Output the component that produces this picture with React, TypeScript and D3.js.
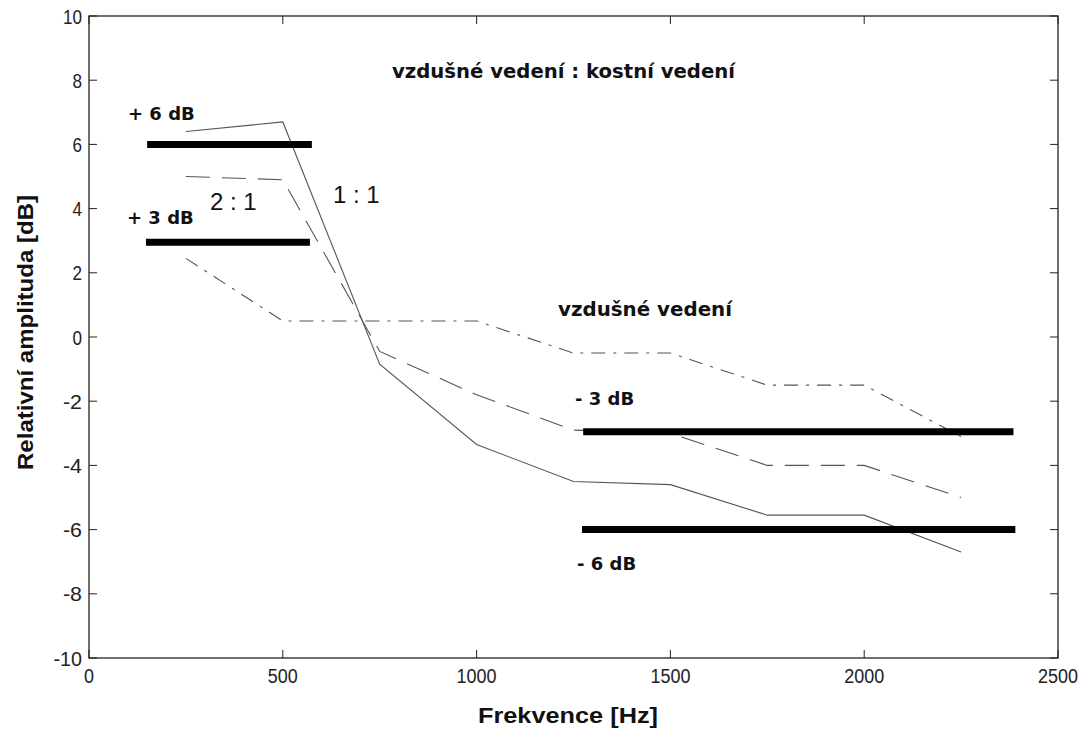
import React from "react";
import * as d3 from "d3";

// frequency points (Hz)
const freqs = [250, 500, 750, 1000, 1250, 1500, 1750, 2000, 2250];
// 1:1 ratio (solid)
const ratio11 = [6.4, 6.7, -0.85, -3.35, -4.5, -4.6, -5.55, -5.55, -6.7];
// 2:1 ratio (dashed)
const ratio21 = [5.0, 4.9, -0.45, -1.8, -2.9, -3.0, -4.0, -4.0, -5.0];
// air conduction only (dash-dot)
const airOnly = [2.45, 0.5, 0.5, 0.5, -0.5, -0.5, -1.5, -1.5, -3.1];
// thick reference levels
const refBars = [
  { from: 150, to: 575, db: 6 },
  { from: 147, to: 570, db: 2.95 },
  { from: 1275, to: 2385, db: -2.95 },
  { from: 1272, to: 2390, db: -6 },
];
const xTicks = [0, 500, 1000, 1500, 2000, 2500];
const yTicks = [-10, -8, -6, -4, -2, 0, 2, 4, 6, 8, 10];

const W = 1082, H = 735;
const left = 89, right = 1058, top = 16, bottom = 658;

export default function App() {
  const x = d3.scaleLinear().domain([0, 2500]).range([left, right]);
  const y = d3.scaleLinear().domain([-10, 10]).range([bottom, top]);
  const line = (vals: number[]) =>
    d3.line<number>().x((_, i) => x(freqs[i])).y((d) => y(d))(vals) || "";
  const sans = "Arial, 'Liberation Sans', sans-serif";
  const wide = "'DejaVu Sans', Verdana, sans-serif";
  const tickLen = 8;

  return (
    <svg width={W} height={H} style={{ position: "absolute", left: 0, top: 0, background: "#fff" }}
      fontFamily={sans}>
      <rect x={0} y={0} width={W} height={H} fill="#fff" />
      {/* data lines */}
      <path d={line(ratio11)} fill="none" stroke="#555" strokeWidth={1.1} />
      <path d={line(ratio21)} fill="none" stroke="#555" strokeWidth={1.1} strokeDasharray="24,12" />
      <path d={line(airOnly)} fill="none" stroke="#555" strokeWidth={1.1} strokeDasharray="14,8,3,8" />
      {refBars.map((b, i) => (
        <line key={i} x1={x(b.from)} x2={x(b.to)} y1={y(b.db)} y2={y(b.db)} stroke="#000" strokeWidth={7} />
      ))}
      {/* frame */}
      <rect x={left} y={top} width={right - left} height={bottom - top} fill="none" stroke="#222" strokeWidth={1.3} />
      {xTicks.map((t) => (
        <g key={"x" + t}>
          <line x1={x(t)} x2={x(t)} y1={bottom} y2={bottom - tickLen} stroke="#222" />
          <line x1={x(t)} x2={x(t)} y1={top} y2={top + tickLen} stroke="#222" />
          <text x={x(t)} y={683} fontSize={20} textAnchor="middle" fill="#222"
            textLength={String(t).length * 10} lengthAdjust="spacingAndGlyphs">{t}</text>
        </g>
      ))}
      {yTicks.map((t) => (
        <g key={"y" + t}>
          <line x1={left} x2={left + tickLen} y1={y(t)} y2={y(t)} stroke="#222" />
          <line x1={right} x2={right - tickLen} y1={y(t)} y2={y(t)} stroke="#222" />
          <text x={82} y={y(t) + 7.5} fontSize={20} textAnchor="end" fill="#222"
            textLength={String(t).length * 9.5} lengthAdjust="spacingAndGlyphs">{t}</text>
        </g>
      ))}
      {/* annotations */}
      <g fontFamily={wide} fontWeight="bold" fill="#111">
        <text x={392} y={78} fontSize={19.5} textLength={343} lengthAdjust="spacingAndGlyphs">vzdušné vedení : kostní vedení</text>
        <text x={128} y={120} fontSize={18}>+ 6 dB</text>
        <text x={127} y={224} fontSize={18}>+ 3 dB</text>
        <text x={558} y={316} fontSize={19.5} textLength={174} lengthAdjust="spacingAndGlyphs">vzdušné vedení</text>
        <text x={575} y={405} fontSize={18}>- 3 dB</text>
        <text x={577} y={570} fontSize={18}>- 6 dB</text>
      </g>
      <text x={210} y={210} fontSize={24} fill="#111">2 : 1</text>
      <text x={333} y={203} fontSize={24} fill="#111">1 : 1</text>
      {/* axis labels */}
      <text x={478} y={723} fontSize={22} fontWeight="bold" fill="#111"
        textLength={180} lengthAdjust="spacingAndGlyphs">Frekvence [Hz]</text>
      <text transform={`translate(33,470) rotate(-90)`} fontSize={22} fontWeight="bold" fill="#111"
        textLength={275} lengthAdjust="spacingAndGlyphs">Relativní amplituda  [dB]</text>
    </svg>
  );
}
